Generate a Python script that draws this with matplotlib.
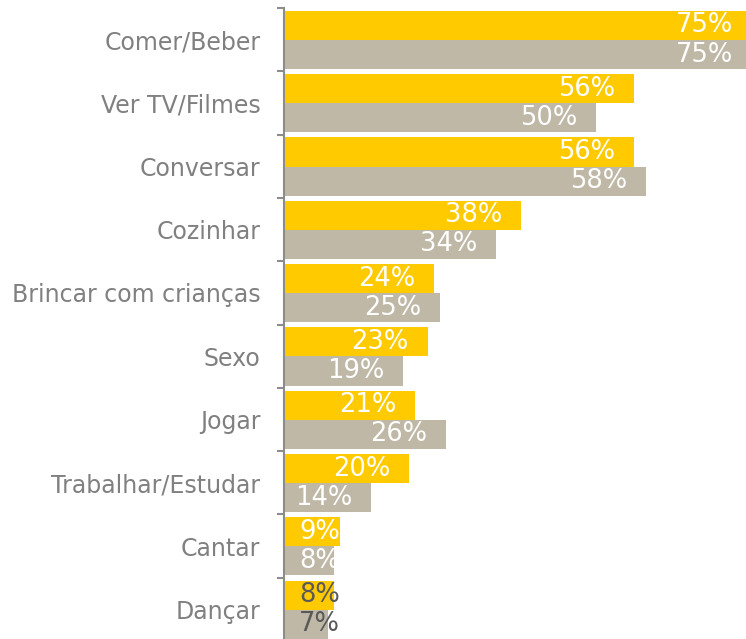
"""
Atividades - barras horizontais agrupadas
"""
import matplotlib
matplotlib.use('Agg')
import matplotlib.pyplot as plt
import numpy as np

plt.rcParams['font.family'] = ['DejaVu Sans']

categories = ['Comer/Beber', 'Ver TV/Filmes', 'Conversar', 'Cozinhar',
              'Brincar com crianças', 'Sexo', 'Jogar', 'Trabalhar/Estudar',
              'Cantar', 'Dançar']
serie_a = [75, 56, 56, 38, 24, 23, 21, 20, 9, 8]
serie_b = [75, 50, 58, 34, 25, 19, 26, 14, 8, 7]

YELLOW = '#FFCB00'
GRAY = '#BFB8A6'
TEXT_GRAY = '#808080'

fig = plt.figure(figsize=(7.46, 6.39), dpi=100)
ax = fig.add_axes([284 / 746, -2 / 639, 1 - 284 / 746, 633 / 639])

y = np.arange(len(categories))
h = 0.46
ax.barh(y - 0.225, serie_a, height=h, color=YELLOW)
ax.barh(y + 0.235, serie_b, height=h, color=GRAY)

# value labels: white inside the bar end, small ones start near the axis
for i, (a, b) in enumerate(zip(serie_a, serie_b)):
    for v, yy in ((a, y[i] - 0.225), (b, y[i] + 0.235)):
        color = 'white'
        if v >= 12:
            ax.text(v - 3, yy, f'{v}%', ha='right', va='center',
                    fontsize=18.5, color=color)
        else:
            if categories[i] == 'Dançar':
                color = '#595959'
            ax.text(2.4, yy, f'{v}%', ha='left', va='center',
                    fontsize=18.5, color=color)

ax.set_xlim(0, 74.0)
ax.set_ylim(len(categories) - 0.5, -0.5)

ax.set_yticks(y)
ax.set_yticklabels(categories)
ax.set_yticks(np.arange(len(categories) + 1) - 0.5, minor=True)
ax.tick_params(axis='y', which='major', length=0, pad=17,
               labelsize=17, labelcolor=TEXT_GRAY)
ax.tick_params(axis='y', which='minor', length=5, width=1.5,
               color='#8C8C8C', direction='out')
ax.set_xticks([])

for side in ('top', 'right', 'bottom'):
    ax.spines[side].set_visible(False)
ax.spines['left'].set_color('#8C8C8C')
ax.spines['left'].set_linewidth(1.5)

fig.savefig('out.png', dpi=100, facecolor='white')
plt.close(fig)
